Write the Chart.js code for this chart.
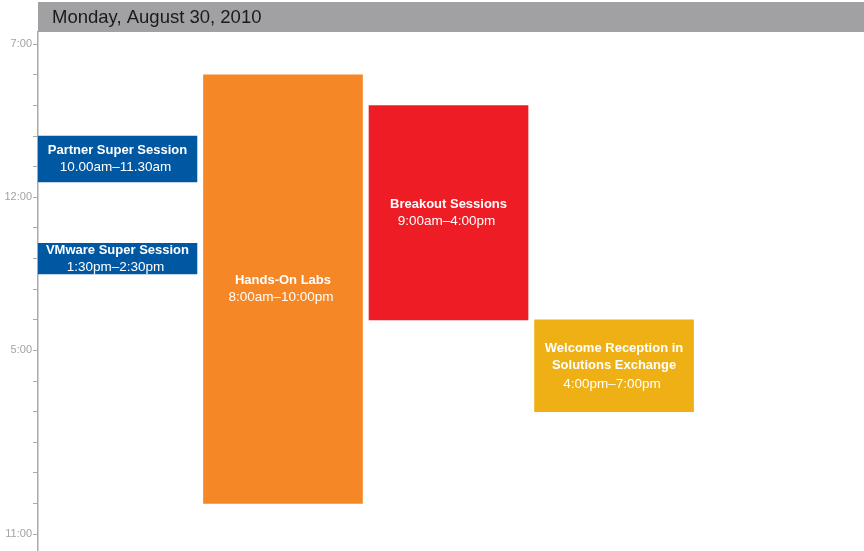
<!DOCTYPE html>
<html>
<head>
<meta charset="utf-8">
<script src="https://cdn.jsdelivr.net/npm/chart.js@4/dist/chart.umd.min.js"></script>
<style>
  body { margin: 0; background: #fff; }
</style>
</head>
<body>
<canvas id="schedule" width="864" height="551"></canvas>
<script>
const dayTitle = "Monday, August 30, 2010";

// events: column, start hour, end hour (24h)
const eventNames = [
  ["Partner Super Session"],
  ["VMware Super Session"],
  ["Hands-On Labs"],
  ["Breakout Sessions"],
  ["Welcome Reception in", "Solutions Exchange"],
];
const eventTimes = [
  "10.00am\u201311.30am",
  "1:30pm\u20132:30pm",
  "8:00am\u201310:00pm",
  "9:00am\u20134:00pm",
  "4:00pm\u20137:00pm",
];
const eventColumns = [0, 0, 1, 2, 3];
const eventStarts = [10, 13.5, 8, 9, 16];
const eventEnds = [11.5, 14.5, 22, 16, 19];
const eventColors = ["#0058a3", "#0058a3", "#f58727", "#ee1d25", "#efb015"];

const hourTicks = [7, 8, 9, 10, 11, 12, 13, 14, 15, 16, 17, 18, 19, 20, 21, 22, 23];
const labelledHours = [7, 12, 17, 23];

const datasets = eventNames.map((n, i) => ({
  label: n.join(" "),
  data: [{ x: eventColumns[i], y: [eventStarts[i], eventEnds[i]] }],
  backgroundColor: eventColors[i],
  grouped: false,
  barThickness: 159,
  borderWidth: 0,
}));

const headerPlugin = {
  id: "header",
  beforeDraw(chart) {
    const { ctx, chartArea } = chart;
    ctx.save();
    ctx.fillStyle = "#a1a1a3";
    ctx.fillRect(chartArea.left, 2, chartArea.right - chartArea.left, 30);
    ctx.fillStyle = "#1a1a1a";
    ctx.font = "18.5px 'Liberation Sans', Arial, sans-serif";
    ctx.textBaseline = "middle";
    ctx.fillText(dayTitle, 52, 18);
    ctx.restore();
  },
};

const labelPlugin = {
  id: "eventLabels",
  afterDatasetsDraw(chart) {
    const { ctx } = chart;
    ctx.save();
    ctx.fillStyle = "#fff";
    ctx.textAlign = "center";
    ctx.textBaseline = "middle";
    chart.data.datasets.forEach((ds, i) => {
      const bar = chart.getDatasetMeta(i).data[0];
      const lines = eventNames[i].length + 1;
      const lh = 17;
      const cy = (bar.y + bar.base) / 2;
      let y = cy - ((lines - 1) * lh) / 2;
      ctx.font = "bold 13px 'Liberation Sans', Arial, sans-serif";
      eventNames[i].forEach((t) => {
        ctx.fillText(t, bar.x, y);
        y += lh;
      });
      ctx.font = "13.5px 'Liberation Sans', Arial, sans-serif";
      ctx.fillText(eventTimes[i], bar.x - 2, y + (lines > 2 ? 2 : 0));
    });
    ctx.restore();
  },
};

new Chart(document.getElementById("schedule"), {
  type: "bar",
  data: { datasets },
  plugins: [headerPlugin, labelPlugin],
  options: {
    responsive: false,
    animation: false,
    layout: { padding: { top: 32, left: 0, right: 0, bottom: 0 } },
    plugins: { legend: { display: false }, tooltip: { enabled: false } },
    scales: {
      x: {
        type: "linear",
        offset: false,
        min: -0.48,
        max: 4.51,
        display: false,
      },
      y: {
        reverse: true,
        min: 6.6,
        max: 23.55,
        afterBuildTicks(scale) {
          scale.ticks = hourTicks.map((v) => ({ value: v }));
        },
        afterFit(scale) {
          scale.width = 38;
          scale.paddingTop = 0;
          scale.paddingBottom = 0;
        },
        ticks: {
          autoSkip: false,
          padding: 1,
          color: "#a3a3a3",
          font: { size: 11, family: "'Liberation Sans', Arial, sans-serif" },
          callback: (v) => (labelledHours.includes(v) ? (v % 12 || 12) + ":00" : ""),
        },
        grid: {
          drawOnChartArea: false,
          tickLength: 5,
          color: "#aaaaaa",
        },
        border: { color: "#aaaaaa", width: 1.5 },
      },
    },
  },
});
</script>
</body>
</html>
